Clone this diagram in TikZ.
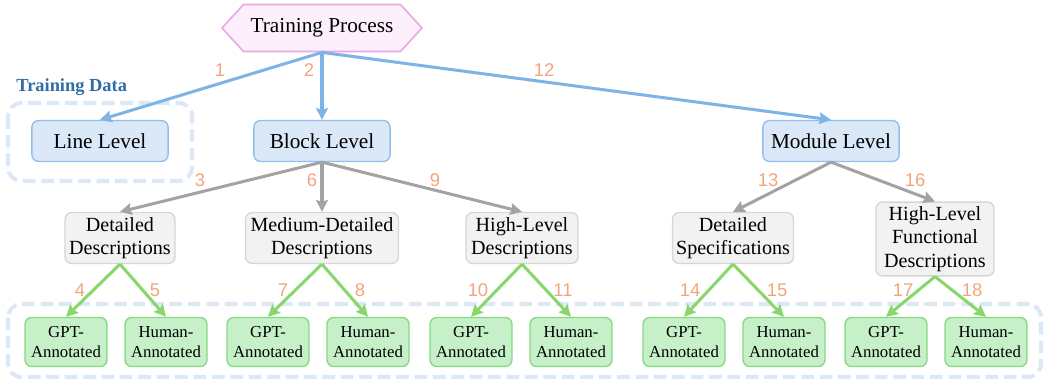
\documentclass[tikz,border=0pt]{standalone}
\usepackage{fontspec}
\setmainfont{Liberation Serif}
\newfontfamily\numfont{Liberation Sans}
\usepackage{tikz}
\usetikzlibrary{shapes.symbols,arrows.meta}

\definecolor{lvlfill}{HTML}{DAE8F8}
\definecolor{lvldraw}{HTML}{92BFEA}
\definecolor{bluearrow}{HTML}{7EB3E6}
\definecolor{descfill}{HTML}{F2F2F2}
\definecolor{descdraw}{HTML}{D6D6D6}
\definecolor{grayarrow}{HTML}{A3A3A3}
\definecolor{annfill}{HTML}{C5F0C8}
\definecolor{anndraw}{HTML}{86D881}
\definecolor{greenarrow}{HTML}{88D66C}
\definecolor{numcol}{HTML}{F4A47C}
\definecolor{dashcol}{HTML}{DCE8F6}
\definecolor{tdtext}{HTML}{2F6CA8}
\definecolor{hexfill}{HTML}{FDEFFB}
\definecolor{hexdraw}{HTML}{E9A9E3}

\begin{document}
\begin{tikzpicture}[x=0.021cm,y=-0.021cm]

    \tikzset{
      process/.style={
        shape=signal,
        signal to=west and east,
        signal pointer angle=95,
        draw=hexdraw,
        fill=hexfill,
        line width=1pt,
        inner sep=0pt,
        minimum width=4.2cm,
        minimum height=0.99cm,
        font=\fontsize{12.7}{14.5}\selectfont,
      },
      level/.style={
        draw=lvldraw,
        fill=lvlfill,
        line width=0.8pt,
        rounded corners=4pt,
        minimum width=2.86cm,
        minimum height=0.86cm,
        inner sep=0pt,
        font=\fontsize{12.7}{14.5}\selectfont,
      },
      desc/.style={
        draw=descdraw,
        fill=descfill,
        line width=0.8pt,
        rounded corners=4pt,
        minimum height=1.07cm,
        inner sep=0pt,
        align=center,
        font=\fontsize{12}{14}\selectfont,
      },
      annot/.style={
        draw=anndraw,
        fill=annfill,
        line width=0.8pt,
        rounded corners=4pt,
        minimum width=1.72cm,
        minimum height=1.03cm,
        inner sep=0pt,
        align=center,
        font=\fontsize{10}{11.6}\selectfont,
      },
      num/.style={
        text=numcol,
        inner sep=0pt,
        font=\numfont\fontsize{11}{12}\selectfont,
      },
      blueedge/.style={
        draw=bluearrow,
        line width=1.8pt,
        -{Stealth[length=7pt,width=7pt,inset=1pt]},
      },
      grayedge/.style={
        blueedge,
        draw=grayarrow,
      },
      greenedge/.style={
        blueedge,
        draw=greenarrow,
      },
      group/.style={
        draw=dashcol,
        line width=2.4pt,
        dash pattern=on 7.5pt off 3.5pt,
        rounded corners=8pt,
      },
    }
    \useasboundingbox (0,0) rectangle (1044,379);

    % dashed groups
    \draw[group] (8,103) rectangle (192,181);
    \draw[group] (8,304) rectangle (1041,377);
    \node[anchor=west, inner sep=0pt, text=tdtext, font=\bfseries\fontsize{11}{12}\selectfont]
      (tdata) at (16,87) {Training Data};

    % top
    \node[process] (tp) at (322,28) {Training Process};

    \node[level] (line) at (100,141) {Line Level};
    \node[level] (block) at (322,141) {Block Level};
    \node[level] (module) at (831,141) {Module Level};

    \node[desc, minimum width=2.31cm] (dd) at (120,238) {Detailed\\Descriptions};
    \node[desc, minimum width=3.21cm] (md) at (322,238) {Medium-Detailed\\Descriptions};
    \node[desc, minimum width=2.35cm] (hd) at (522,238) {High-Level\\Descriptions};
    \node[desc, minimum width=2.54cm] (ds) at (733,238) {Detailed\\Specifications};
    \node[desc, minimum width=2.48cm, minimum height=1.55cm] (hf) at (935,239)
      {High-Level\\Functional\\Descriptions};

    \node[annot] (dd-gpt) at (66,342) {GPT-\\Annotated};
    \node[annot] (dd-hum) at (166,342) {Human-\\Annotated};
    \node[annot] (md-gpt) at (268,342) {GPT-\\Annotated};
    \node[annot] (md-hum) at (368,342) {Human-\\Annotated};
    \node[annot] (hd-gpt) at (471,342) {GPT-\\Annotated};
    \node[annot] (hd-hum) at (571,342) {Human-\\Annotated};
    \node[annot] (ds-gpt) at (684,342) {GPT-\\Annotated};
    \node[annot] (ds-hum) at (784,342) {Human-\\Annotated};
    \node[annot] (hf-gpt) at (886,342) {GPT-\\Annotated};
    \node[annot] (hf-hum) at (986,342) {Human-\\Annotated};

    % connectors
    \draw[blueedge] (tp.south) -- (line.north);
    \draw[blueedge] (tp.south) -- (block.north);
    \draw[blueedge] (tp.south) -- (module.north);

    \draw[grayedge] (block.south) -- (dd.north);
    \draw[grayedge] (block.south) -- (md.north);
    \draw[grayedge] (block.south) -- (hd.north);
    \draw[grayedge] (module.south) -- (ds.north);
    \draw[grayedge] (module.south) -- (hf.north);

    \foreach \p in {dd,md,hd,ds,hf}{
      \draw[greenedge] (\p.south) -- (\p-gpt.north);
      \draw[greenedge] (\p.south) -- (\p-hum.north);
    }

    % step numbers
    \foreach \t/\x/\y in {1/220/70, 2/309/70, 12/544/70,
                          3/200/180, 6/312/180, 9/435/180, 13/768/180, 16/915/180,
                          4/80/290, 5/155/290, 7/283/290, 8/360/290, 10/478/290,
                          11/563/290, 14/690/290, 15/777/290, 17/903/290, 18/972/290}
      \node[num] (n\t) at (\x,\y) {\t};

\end{tikzpicture}
\end{document}
